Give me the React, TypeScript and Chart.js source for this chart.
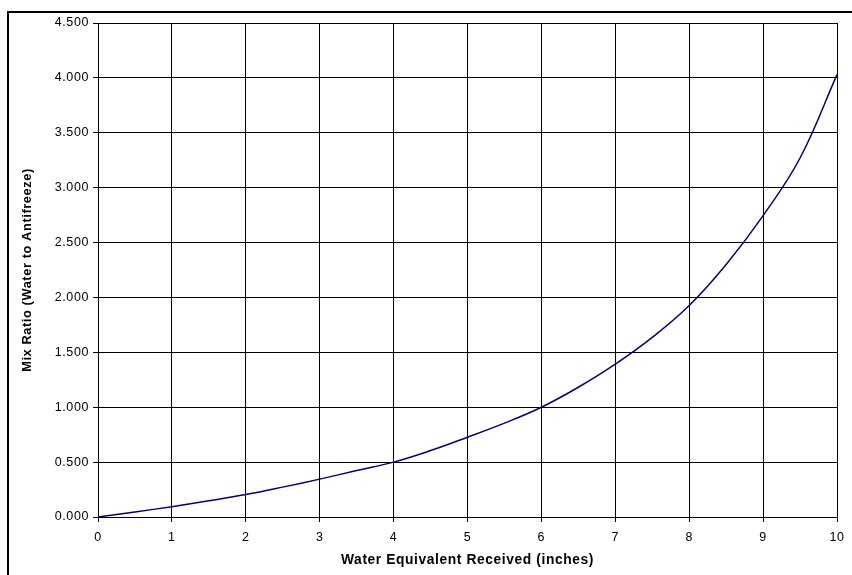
import React, { useEffect, useRef } from "react";
import { Chart, registerables } from "chart.js";

Chart.register(...registerables);

const waterInches = [0, 0.5, 1, 1.5, 2, 2.5, 3, 3.5, 4, 4.5, 5, 5.5, 6, 6.5, 7, 7.5, 8, 8.5, 9, 9.5, 10];
const mixRatio = [0, 0.046, 0.094, 0.147, 0.204, 0.272, 0.345, 0.423, 0.5, 0.605, 0.727, 0.855, 1.0, 1.182, 1.392, 1.636, 1.926, 2.3, 2.745, 3.27, 4.03];

const xTitle = "Water Equivalent Received (inches)";
const yTitle = "Mix Ratio (Water to Antifreeze)";

const FONT = "'Liberation Sans', Arial, sans-serif";

const spacingPlugin = {
  id: "spacing",
  beforeDraw(chart: any) {
    chart.ctx.letterSpacing = "0.6px";
  },
};

export default function App() {
  const ref = useRef<HTMLCanvasElement | null>(null);

  useEffect(() => {
    if (!ref.current) return;
    const points = waterInches.map((x, i) => ({ x, y: mixRatio[i] }));
    const chart = new Chart(ref.current, {
      type: "scatter",
      data: {
        datasets: [
          {
            data: points,
            showLine: true,
            borderColor: "#000080",
            borderWidth: 1.5,
            pointRadius: 0,
            tension: 0.4,
            fill: false,
          },
        ],
      },
      plugins: [spacingPlugin],
      options: {
        animation: false,
        responsive: false,
        devicePixelRatio: 1,
        layout: { padding: { top: 23, right: 15, left: 0, bottom: 0 } },
        plugins: { legend: { display: false }, tooltip: { enabled: false } },
        scales: {
          x: {
            type: "linear",
            min: 0,
            max: 10,
            afterFit: (s: any) => {
              s.height = 58;
            },
            ticks: {
              stepSize: 1,
              color: "#000",
              padding: 8,
              maxRotation: 0,
              font: { family: FONT, size: 12.5 },
            },
            grid: { color: "#000", lineWidth: 1, tickLength: 5 },
            border: { color: "#000", width: 1 },
            title: {
              display: true,
              text: xTitle,
              color: "#000",
              padding: { top: 0, bottom: 7 },
              font: { family: FONT, size: 13.8, weight: "bold" },
            },
          },
          y: {
            type: "linear",
            min: 0,
            max: 4.5,
            afterFit: (s: any) => {
              s.width = 98;
            },
            ticks: {
              stepSize: 0.5,
              color: "#000",
              padding: 4,
              callback: (v: any) => Number(v).toFixed(3),
              font: { family: FONT, size: 12.5 },
            },
            grid: { color: "#000", lineWidth: 1, tickLength: 5 },
            border: { color: "#000", width: 1 },
            title: {
              display: true,
              text: yTitle,
              color: "#000",
              padding: { top: 20, bottom: 0 },
              font: { family: FONT, size: 12.8, weight: "bold" },
            },
          },
        },
      },
    });
    return () => chart.destroy();
  }, []);

  return (
    <div
      style={{
        position: "absolute",
        left: 0,
        top: 0,
        width: 852,
        height: 575,
        overflow: "hidden",
        background: "#fff",
      }}
    >
      <canvas ref={ref} width={852} height={575} style={{ position: "absolute", left: 0, top: 0, width: 852, height: 575 }} />
      <div
        style={{
          position: "absolute",
          left: 7,
          top: 11,
          width: 900,
          height: 700,
          borderLeft: "2px solid #000",
          borderTop: "2px solid #000",
          pointerEvents: "none",
        }}
      />
    </div>
  );
}
